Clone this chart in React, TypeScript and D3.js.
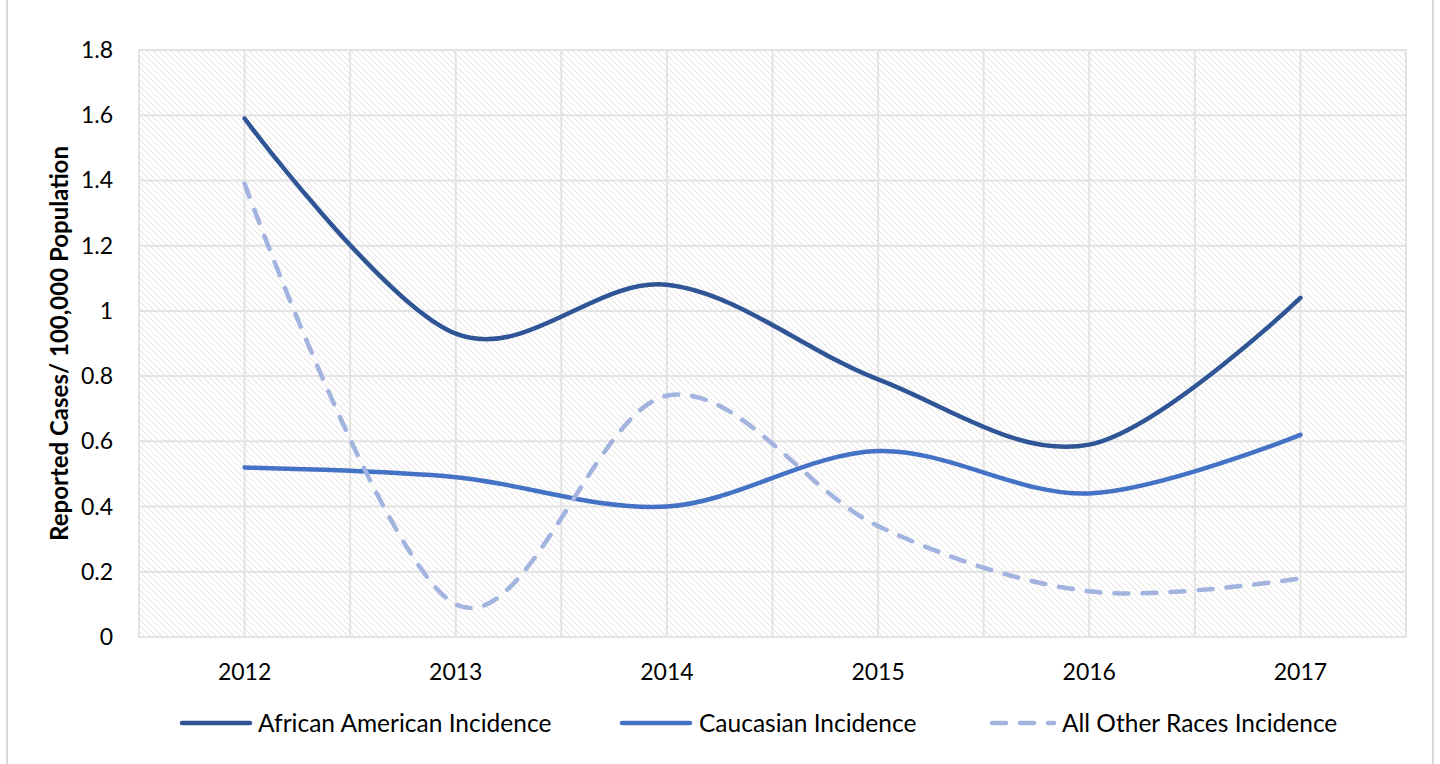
import React from "react";
import * as d3 from "d3";

const years = ["2012", "2013", "2014", "2015", "2016", "2017"];
const africanAmerican = [1.59, 0.93, 1.08, 0.79, 0.59, 1.04];
const caucasian = [0.52, 0.49, 0.40, 0.57, 0.44, 0.62];
const otherRaces = [1.39, 0.10, 0.74, 0.34, 0.14, 0.18];
const yTicks = [0, 0.2, 0.4, 0.6, 0.8, 1, 1.2, 1.4, 1.6, 1.8];

const W = 1440;
const H = 764;
const left = 139;
const right = 1406;
const top = 50;
const bottom = 637;
const font = "Lato, 'Open Sans', sans-serif";

export default function App() {
  const x = d3.scaleBand<string>().domain(years).range([left, right]);
  const y = d3.scaleLinear().domain([0, 1.8]).range([bottom, top]);
  const cx = (d: string) => (x(d) as number) + x.bandwidth() / 2;
  const line = d3
    .line<number>()
    .x((_, i) => cx(years[i]))
    .y((v) => y(v))
    .curve(d3.curveCardinal.tension(0));

  const vGrid: number[] = [];
  years.forEach((yr) => {
    vGrid.push(x(yr) as number);
    vGrid.push(cx(yr));
  });
  vGrid.push(right);

  const series = [
    { name: "African American Incidence", values: africanAmerican, color: "#2F5597", dash: "none", lx: 182, lw: 68, tx: 258 },
    { name: "Caucasian Incidence", values: caucasian, color: "#4472C4", dash: "none", lx: 622, lw: 68, tx: 699 },
    { name: "All Other Races Incidence", values: otherRaces, color: "#A3B3DF", dash: "14 14", lx: 992, lw: 62, tx: 1062 },
  ];

  return (
    <svg width={W} height={H} style={{ position: "absolute", left: 0, top: 0, background: "#fff" }}>
      <defs>
        <pattern id="hatch" width="6" height="6" patternUnits="userSpaceOnUse">
          <path d="M-1,-1 L7,7 M-1,5 L1,7 M5,-1 L7,1" stroke="#e0e0e0" strokeWidth="1" />
        </pattern>
      </defs>
      <rect x={7} y={-2} width={1426} height={H + 4} fill="none" stroke="#d9d9d9" strokeWidth={2} />
      <rect x={left} y={top} width={right - left} height={bottom - top} fill="url(#hatch)" stroke="#d9d9d9" strokeWidth={1.5} />
      {yTicks.map((t) => (
        <line key={"h" + t} x1={left} x2={right} y1={y(t)} y2={y(t)} stroke="#e3e3e3" strokeWidth={2} />
      ))}
      {vGrid.map((g, i) => (
        <line key={"v" + i} x1={g} x2={g} y1={top} y2={bottom} stroke="#e3e3e3" strokeWidth={2} />
      ))}
      {yTicks.map((t) => (
        <text key={"yt" + t} x={113} y={y(t)} dy="0.35em" textAnchor="end" fontFamily={font} fontSize={23} fill="#000">
          {String(t)}
        </text>
      ))}
      {years.map((yr) => (
        <text key={"xt" + yr} x={cx(yr)} y={680} textAnchor="middle" fontFamily={font} fontSize={23} fill="#000">
          {yr}
        </text>
      ))}
      <text
        transform={`translate(68,${(top + bottom) / 2}) rotate(-90)`}
        textAnchor="middle"
        fontFamily={font}
        fontWeight="bold"
        fontSize={24}
        fill="#000"
      >
        Reported Cases/ 100,000 Population
      </text>
      {series.map((s) => (
        <path
          key={s.name}
          d={line(s.values) as string}
          fill="none"
          stroke={s.color}
          strokeWidth={4.5}
          strokeDasharray={s.dash}
          strokeLinecap="round"
        />
      ))}
      {series.map((s) => (
        <g key={"lg" + s.name}>
          <line
            x1={s.lx}
            x2={s.lx + s.lw}
            y1={723}
            y2={723}
            stroke={s.color}
            strokeWidth={4.5}
            strokeDasharray={s.dash === "none" ? "none" : "14 14"}
            strokeLinecap="round"
          />
          <text x={s.tx} y={723} dy="0.35em" fontFamily={font} fontSize={24.5} fill="#000">
            {s.name}
          </text>
        </g>
      ))}
    </svg>
  );
}
